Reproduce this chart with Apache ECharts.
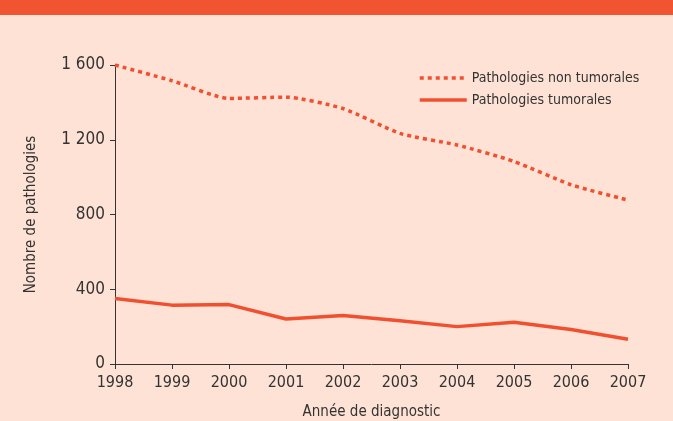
<!DOCTYPE html>
<html><head><meta charset="utf-8">
<script src="https://cdn.jsdelivr.net/npm/echarts@6/dist/echarts.min.js"></script>
<style>html,body{margin:0;padding:0;background:#FEE2D5}#c{width:673px;height:421px}</style>
</head><body><div id="c"></div>
<script>
const years = ['1998','1999','2000','2001','2002','2003','2004','2005','2006','2007'];
const nonTumorales = [1600, 1516, 1421, 1428, 1367, 1234, 1172, 1084, 959, 877];
const tumorales = [350, 315, 318, 241, 260, 232, 200, 223, 185, 132];
const seriesNames = ['Pathologies non tumorales', 'Pathologies tumorales'];
const FONT = '"DejaVu Sans Condensed", sans-serif';
const RED = '#F0502F';
const chart = echarts.init(document.getElementById('c'));
chart.setOption({
  backgroundColor: '#FEE2D5',
  animation: false,
  graphic: [{ type: 'rect', left: 0, top: 0, shape: { width: 673, height: 15 }, style: { fill: '#F15431' } }],
  grid: { left: 115, right: 45, top: 65, bottom: 57, containLabel: false, outerBoundsMode: 'none' },
  legend: {
    orient: 'vertical', left: 413, top: 66, itemWidth: 47, itemHeight: 10, itemGap: 8,
    itemStyle: { opacity: 0 },
    lineStyle: { width: 3.5 },
    textStyle: { fontFamily: FONT, fontSize: 14, color: '#333' },
    data: seriesNames
  },
  xAxis: {
    type: 'category', data: years, boundaryGap: false,
    name: 'Année de diagnostic', nameLocation: 'middle', nameGap: 41,
    nameTextStyle: { fontFamily: FONT, fontSize: 15, color: '#333' },
    axisLine: { lineStyle: { color: '#333', width: 1 } },
    axisTick: { show: true, length: 5, lineStyle: { color: '#333' }, alignWithLabel: true },
    axisLabel: { fontFamily: FONT, fontSize: 16, color: '#333', margin: 11 }
  },
  yAxis: {
    type: 'value', min: 0, max: 1600, interval: 400,
    name: 'Nombre de pathologies', nameLocation: 'middle', nameGap: 76, nameRotate: 90,
    nameTextStyle: { fontFamily: FONT, fontSize: 15, color: '#333' },
    axisLine: { show: true, lineStyle: { color: '#333', width: 1 } },
    axisTick: { show: true, length: 5, lineStyle: { color: '#333' } },
    splitLine: { show: false },
    axisLabel: { fontFamily: FONT, fontSize: 17, color: '#333', margin: 10,
      formatter: v => String(v).replace(/\B(?=(\d{3})+(?!\d))/g, ' ') }
  },
  series: [
    { name: seriesNames[0], type: 'line', data: nonTumorales, symbol: 'none', smooth: 0.2,
      lineStyle: { color: RED, width: 3.5, type: [4, 4] }, itemStyle: { color: RED } },
    { name: seriesNames[1], type: 'line', data: tumorales, symbol: 'none',
      lineStyle: { color: RED, width: 3.5 }, itemStyle: { color: RED } }
  ]
});
</script></body></html>
